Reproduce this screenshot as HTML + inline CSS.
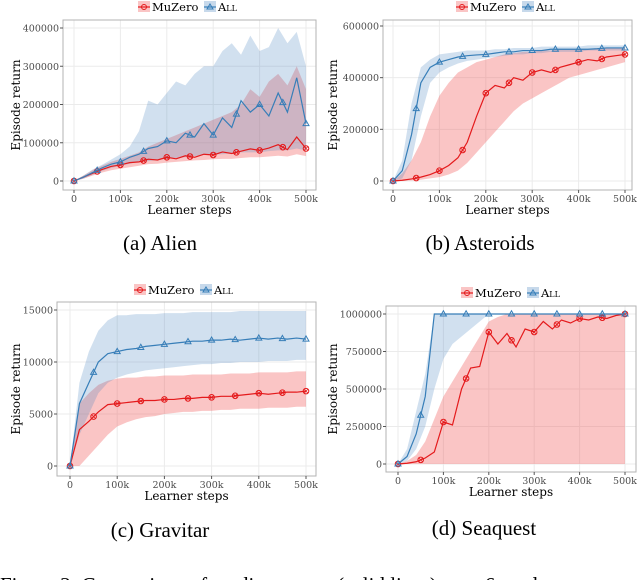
<!DOCTYPE html>
<html><head><meta charset="utf-8"><style>
html,body{margin:0;padding:0;background:#fff;width:640px;height:580px;overflow:hidden}
svg text{font-family:"DejaVu Serif","Liberation Serif",serif}
svg text.cap{font-family:"Liberation Serif","DejaVu Serif",serif}
</style></head><body>
<svg id="fig" width="640" height="580" viewBox="0 0 640 580" xmlns="http://www.w3.org/2000/svg"></svg>
<script>
// x values (thousands of learner steps)
const steps = [0,20,40,60,80,100,120,140,160,180,200,220,240,260,280,300,320,340,360,380,400,420,440,460,480,500];

// Alien (thousands)
const alienMz   = [0,10,20,30,38,42,48,50,57,55,62,58,66,62,70,68,76,72,78,84,80,86,95,82,115,85];
const alienMzLo = [0,6,14,22,28,32,36,40,44,45,48,50,52,54,55,57,58,58,60,62,62,64,66,64,70,65];
const alienMzHi = [0,14,28,40,50,58,66,75,90,100,110,120,130,140,150,160,170,180,200,240,220,260,280,250,300,240];
const alienAll  = [0,10,22,34,44,50,62,70,85,90,105,100,125,115,150,120,165,140,210,180,200,170,230,180,270,150];
const alienAllLo= [0,6,16,26,34,40,45,50,52,55,58,60,62,65,68,70,70,72,75,75,75,78,80,80,85,80];
const alienAllHi= [0,14,30,42,56,70,90,130,210,200,230,260,250,280,300,300,340,360,330,380,340,350,400,360,390,300];

// Asteroids (thousands)
const astMz   = [0,3,8,15,25,40,60,90,150,250,340,370,360,400,390,420,430,420,440,450,460,470,465,480,485,490];
const astMzLo = [0,0,2,5,10,15,25,40,70,110,150,190,230,270,300,320,340,360,380,400,410,420,430,440,450,460];
const astMzHi = [0,30,80,150,250,330,380,420,440,460,470,480,490,495,500,500,505,505,510,510,510,510,515,515,515,515];
const astAll  = [0,40,180,380,440,460,470,480,485,488,490,495,500,500,505,505,505,510,510,510,510,510,512,515,515,515];
const astAllLo= [0,10,80,250,380,420,440,455,465,470,475,480,485,490,490,495,495,500,500,500,500,505,505,505,505,505];
const astAllHi= [0,80,300,440,470,490,495,500,505,505,505,510,510,515,515,515,520,520,520,520,520,525,525,525,525,525];

// Gravitar
const gravMz   = [0,3500,4300,5200,5900,6000,6100,6200,6300,6300,6400,6400,6500,6500,6600,6600,6700,6700,6800,6900,7000,6900,7000,7100,7100,7200];
const gravMzLo = [0,0,1000,2000,3000,3800,4200,4500,4700,4800,5000,5100,5200,5200,5300,5300,5400,5400,5500,5500,5500,5600,5600,5600,5700,5700];
const gravMzHi = [0,6000,7000,7800,8200,8400,8500,8500,8600,8600,8700,8700,8700,8800,8800,8800,8800,8900,8900,8900,9000,9000,9000,9000,9100,9100];
const gravAll  = [0,6000,8000,10000,10800,11000,11200,11300,11500,11600,11700,11800,11900,12000,12000,12100,12100,12200,12100,12200,12300,12200,12300,12200,12300,12200];
const gravAllLo= [0,3000,5000,7000,8000,8500,8800,9000,9200,9300,9400,9500,9600,9700,9800,9800,9900,9900,10000,10000,10000,10100,10100,10100,10200,10200];
const gravAllHi= [0,8000,11000,13000,14000,14500,14500,14600,14600,14600,14700,14700,14700,14800,14800,14800,14800,14800,14900,14900,14900,14900,14900,14900,14900,14900];

// Seaquest (thousands)
const seaMz   = [0,5,15,40,80,280,260,500,640,650,880,800,870,780,900,880,950,900,960,940,970,960,980,970,990,1000];
const seaMzLo = [0,0,0,0,0,0,0,0,0,0,0,0,0,0,0,0,0,0,0,0,0,0,0,0,0,0];
const seaMzHi = [0,20,60,150,300,450,550,650,750,850,950,980,1000,1000,1000,1000,1000,1000,1000,1000,1000,1000,1000,1000,1000,1000];
const seaAll  = [0,50,200,450,1000,1000,1000,1000,1000,1000,1000,1000,1000,1000,1000,1000,1000,1000,1000,1000,1000,1000,1000,1000,1000,1000];
const seaAllLo= [0,20,100,250,500,700,800,850,900,950,1000,1000,1000,1000,1000,1000,1000,1000,1000,1000,1000,1000,1000,1000,1000,1000];
const seaAllHi= [0,100,350,600,1000,1000,1000,1000,1000,1000,1000,1000,1000,1000,1000,1000,1000,1000,1000,1000,1000,1000,1000,1000,1000,1000];

const xTickVals = [0,100,200,300,400,500];
const xTickLabels = ["0","100k","200k","300k","400k","500k"];
const alienYTicks = [0,100,200,300,400];
const alienYLabels = ["0","100000","200000","300000","400000"];
const astYTicks = [0,200,400,600];
const astYLabels = ["0","200000","400000","600000"];
const gravYTicks = [0,5000,10000,15000];
const gravYLabels = ["0","5000","10000","15000"];
const seaYTicks = [0,250,500,750,1000];
const seaYLabels = ["0","250000","500000","750000","1000000"];

const NS = "http://www.w3.org/2000/svg";
const svg = document.getElementById('fig');
function mk(tag, attrs, parent){ const e=document.createElementNS(NS,tag); for(const k in attrs) e.setAttribute(k,attrs[k]); (parent||svg).appendChild(e); return e; }

const RED="#e41a1c", BLUE="#377eb8";

function panel(c){
  const g = mk('g',{});
  
  
  const sx = v => c.x0 + (v - 0) / 500 * (c.x1 - c.x0);
  const sy = v => c.y0 - v / c.yMax * (c.y0 - c.yTop);
  const grid = mk('g',{},g);
  
  
  xTickVals.forEach(v=>{ mk('line',{x1:sx(v),x2:sx(v),y1:c.top,y2:c.bot,stroke:'#ebebeb','stroke-width':1},grid); });
  c.yTicks.forEach(v=>{ mk('line',{x1:c.left,x2:c.right,y1:sy(v),y2:sy(v),stroke:'#ebebeb','stroke-width':1},grid); });
  function band(lo,hi,fill,name){
    let d='M'+steps.map((s,i)=>sx(s)+','+sy(hi[i])).join('L');
    for(let i=steps.length-1;i>=0;i--) d+='L'+sx(steps[i])+','+sy(lo[i]);
    const p=mk('path',{d:d+'Z',fill:fill},g);
    
    
  }
  band(c.mzLo,c.mzHi,'rgba(240,90,90,0.35)','muzero-band');
  band(c.allLo,c.allHi,'rgba(70,130,190,0.25)','all-band');
  function line(arr,col,name,marker){
    const p=mk('path',{d:'M'+steps.map((s,i)=>sx(s)+','+sy(arr[i])).join('L'),fill:'none',stroke:col,'stroke-width':1.2},g);
    
    
    for(let m=0;m<=500;m+=50){
      let i=Math.min(Math.floor(m/20),steps.length-2);
      const t=(m-steps[i])/(steps[i+1]-steps[i]);
      const v=arr[i]+(arr[i+1]-arr[i])*t;
      const X=sx(m),Y=sy(v);
      if(marker==='circle'){
        const cg=mk('g',{},g);
        
        
        mk('circle',{cx:X,cy:Y,r:2.8,fill:'none',stroke:col,'stroke-width':1},cg);
        mk('path',{d:`M${X-2},${Y-2}L${X+2},${Y+2}M${X-2},${Y+2}L${X+2},${Y-2}`,stroke:col,'stroke-width':0.8},cg);
      } else {
        const tp=mk('path',{d:`M${X},${Y-3.2}L${X+3},${Y+2}L${X-3},${Y+2}Z`,fill:'none',stroke:col,'stroke-width':1},g);
        
        
      }
    }
  }
  line(c.mz,RED,'muzero-line','circle');
  line(c.all,BLUE,'all-line','tri');
  const b=mk('rect',{x:c.left,y:c.top,width:c.right-c.left,height:c.bot-c.top,fill:'none',stroke:'#b3b3b3','stroke-width':1},g);
  
  
  xTickVals.forEach((v,i)=>{
    mk('line',{x1:sx(v),x2:sx(v),y1:c.bot,y2:c.bot+3,stroke:'#555'},g);
    const t=mk('text',{x:sx(v),y:c.bot+12,'text-anchor':'middle','font-size':9.5,fill:'#4d4d4d'},g);
    t.textContent=xTickLabels[i];
    
    
  });
  c.yTicks.forEach((v,i)=>{
    mk('line',{x1:c.left-3,x2:c.left,y1:sy(v),y2:sy(v),stroke:'#555'},g);
    const t=mk('text',{x:c.left-4,y:sy(v)+3.5,'text-anchor':'end','font-size':9.5,fill:'#4d4d4d'},g);
    t.textContent=c.yLabels[i];
    
    
  });
  const xt=mk('text',{x:(c.left+c.right)/2,y:c.bot+24,'text-anchor':'middle','font-size':12,fill:'#000'},g);
  xt.textContent='Learner steps';
  
  
  const yt=mk('text',{x:0,y:0,'text-anchor':'middle','font-size':12,fill:'#000',transform:`translate(${c.ytx},${(c.top+c.bot)/2}) rotate(-90)`},g);
  yt.textContent='Episode return';
  
  
  const lg=mk('g',{},g);
  
  
  const lx=c.legX, ly=c.legY;
  mk('rect',{x:lx,y:ly-6,width:12,height:11,fill:'rgba(240,90,90,0.35)'},lg);
  mk('line',{x1:lx,x2:lx+12,y1:ly,y2:ly,stroke:RED,'stroke-width':1.2},lg);
  mk('circle',{cx:lx+6,cy:ly,r:2.5,fill:'none',stroke:RED},lg);
  const t1=mk('text',{x:lx+14,y:ly+4,'font-size':11.5},lg); t1.textContent='MuZero';
  
  
  mk('rect',{x:lx+66,y:ly-6,width:12,height:11,fill:'rgba(70,130,190,0.3)'},lg);
  mk('line',{x1:lx+66,x2:lx+78,y1:ly,y2:ly,stroke:BLUE,'stroke-width':1.2},lg);
  mk('path',{d:`M${lx+72},${ly-3}L${lx+75},${ly+2}L${lx+69},${ly+2}Z`,fill:'none',stroke:BLUE},lg);
  const t2=mk('text',{x:lx+80,y:ly+4,'font-size':11.5,'font-variant':'small-caps'},lg); t2.textContent='All';
  
  
  const cap=mk('text',{x:c.capX,y:c.capY,'text-anchor':'middle','font-size':21,'class':'cap'},g);
  cap.textContent=c.caption;
  
  
}

panel({name:'alien-panel',left:63,right:316,top:20,bot:190,x0:74,x1:306,y0:181,yTop:28,yMax:400,
  yTicks:alienYTicks,yLabels:alienYLabels,mz:alienMz,mzLo:alienMzLo,mzHi:alienMzHi,all:alienAll,allLo:alienAllLo,allHi:alienAllHi,
  ytx:20,legX:138,legY:7,caption:'(a) Alien',capX:160,capY:250});
panel({name:'asteroids-panel',left:383,right:632,top:20,bot:190,x0:393,x1:625,y0:181,yTop:26,yMax:600,
  yTicks:astYTicks,yLabels:astYLabels,mz:astMz,mzLo:astMzLo,mzHi:astMzHi,all:astAll,allLo:astAllLo,allHi:astAllHi,
  ytx:337,legX:456,legY:7,caption:'(b) Asteroids',capX:480,capY:250});
panel({name:'gravitar-panel',left:57,right:316,top:302,bot:476,x0:70,x1:306,y0:466,yTop:310,yMax:15000,
  yTicks:gravYTicks,yLabels:gravYLabels,mz:gravMz,mzLo:gravMzLo,mzHi:gravMzHi,all:gravAll,allLo:gravAllLo,allHi:gravAllHi,
  ytx:20,legX:134,legY:290,caption:'(c) Gravitar',capX:160,capY:537});
panel({name:'seaquest-panel',left:386,right:636,top:306,bot:472,x0:398,x1:625,y0:464,yTop:314,yMax:1000,
  yTicks:seaYTicks,yLabels:seaYLabels,mz:seaMz,mzLo:seaMzLo,mzHi:seaMzHi,all:seaAll,allLo:seaAllLo,allHi:seaAllHi,
  ytx:337,legX:461,legY:293,caption:'(d) Seaquest',capX:484,capY:535});

const fc=mk('text',{x:0,y:592,'font-size':21,'class':'cap'});
fc.textContent='Figure 3: Comparison of median scores (solid lines) over 6 seeds';


</script>
</body></html>
